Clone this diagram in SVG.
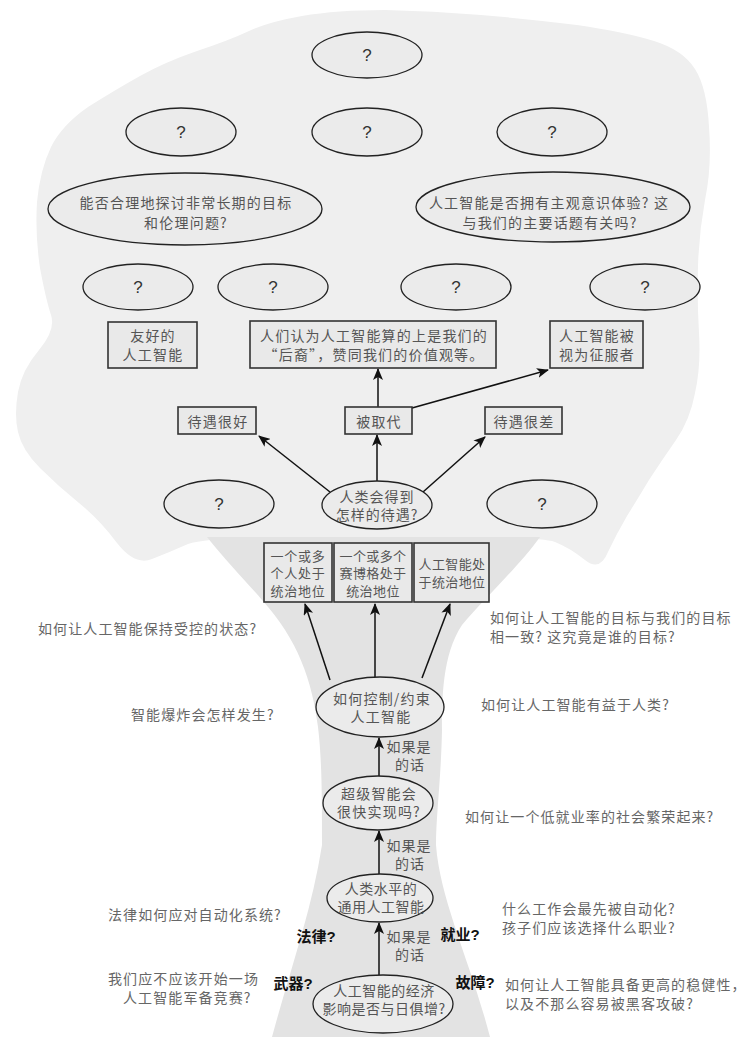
<svg xmlns="http://www.w3.org/2000/svg" width="750" height="1043" viewBox="0 0 750 1043">
<defs>
<style>
.ell{fill:#ebebeb;stroke:#222;stroke-width:1.3}
.box{fill:#e9e9e9;stroke:#333;stroke-width:1.6}
.q{font-family:"Liberation Sans",Arial,sans-serif;font-size:17px;fill:#333;text-anchor:middle;dominant-baseline:central}
.t{font-family:"Noto Sans CJK SC","Noto Sans",sans-serif;font-size:14px;fill:#555;text-anchor:middle;dominant-baseline:central;letter-spacing:1.2px}
.tb{font-family:"Noto Sans CJK SC","Noto Sans",sans-serif;font-size:13px;fill:#555;text-anchor:middle;dominant-baseline:central;letter-spacing:0.8px}
.s{font-family:"Noto Sans CJK SC","Noto Sans",sans-serif;font-size:14px;fill:#666;dominant-baseline:central;letter-spacing:1.1px}
.b{font-family:"Liberation Sans","Noto Sans CJK SC",sans-serif;font-size:15px;font-weight:bold;fill:#111;text-anchor:middle;dominant-baseline:central}
.con{stroke:#111;stroke-width:1.5;fill:none;marker-end:url(#ah)}
</style>
<marker id="ah" viewBox="0 0 12 10" refX="11" refY="5" markerWidth="12" markerHeight="10" markerUnits="userSpaceOnUse" orient="auto">
<path d="M0,0 L12,5 L0,10 L3,5 z" fill="#111"/>
</marker>
</defs>
<rect width="750" height="1043" fill="#ffffff"/>
<g id="tree">
<path id="cloud" fill="#efefef" d="M117,543 Q100,520 79,503 Q58,486 40,468 Q22,450 18,432 Q14,415 18,392 Q22,370 39,350 Q56,330 51,315 Q46,300 40,268 Q35,235 37,202 Q40,170 51,147 Q62,125 88,107 Q115,90 140,76 Q165,62 197,51 Q230,40 249,31 Q268,22 302,16 Q337,10 385,10 Q433,11 481,15 Q529,19 577,25 Q625,32 654,41 Q683,50 695,69 Q707,88 709,127 Q712,167 705,200 Q699,233 698,266 Q697,300 699,333 Q701,367 695,393 Q690,420 676,440 Q662,460 649,480 Q637,500 627,516 Q617,533 608,552 Q600,572 585,560 Q570,548 555,542 Q540,537 460,537 Q380,537 293,537 Q207,537 188,544 Q170,552 152,559 Q135,566 117,543 Z"/>
<path id="trunk" fill="#e3e3e3" d="M207,537 L540,537 C520,565 485,598 462,625 C442,655 442,700 442,730 C441,780 436,815 436,845 C440,900 470,960 490,1037 L272,1037 C290,970 312,910 322,845 C322,800 322,760 318,727 C312,680 298,640 262,600 C245,580 225,560 207,537 Z"/>
</g>
<g id="connectors">
<line class="con" x1="330" y1="492" x2="259" y2="436"/>
<line class="con" x1="377" y1="482" x2="377" y2="435"/>
<line class="con" x1="423" y1="492" x2="485" y2="437"/>
<line class="con" x1="378" y1="407" x2="378" y2="369"/>
<line class="con" x1="412" y1="408" x2="548" y2="370"/>
<line class="con" x1="330" y1="680" x2="305" y2="604"/>
<line class="con" x1="375" y1="677" x2="375" y2="604"/>
<line class="con" x1="422" y1="678" x2="450" y2="604"/>
<line class="con" x1="379" y1="776" x2="379" y2="738"/>
<line class="con" x1="379" y1="876" x2="379" y2="831"/>
<line class="con" x1="379" y1="975" x2="379" y2="923"/>
</g>
<g id="n_q1"><ellipse class="ell" cx="367" cy="55" rx="55" ry="23"/><text class="q" x="367" y="55">?</text></g>
<g id="n_q2"><ellipse class="ell" cx="181" cy="132" rx="55" ry="24"/><text class="q" x="181" y="132">?</text></g>
<g id="n_q3"><ellipse class="ell" cx="367" cy="132" rx="55" ry="24"/><text class="q" x="367" y="132">?</text></g>
<g id="n_q4"><ellipse class="ell" cx="552" cy="132" rx="55" ry="24"/><text class="q" x="552" y="132">?</text></g>
<g id="n_long"><ellipse class="ell" cx="185" cy="209" rx="137" ry="36"/><text class="t" x="186" y="202">能否合理地探讨非常长期的目标</text><text class="t" x="186" y="222">和伦理问题?</text></g>
<g id="n_conscious"><ellipse class="ell" cx="553" cy="207" rx="137" ry="35"/><text class="t" x="549" y="202">人工智能是否拥有主观意识体验? 这</text><text class="t" x="550" y="222">与我们的主要话题有关吗?</text></g>
<g id="n_q5"><ellipse class="ell" cx="138" cy="287" rx="55" ry="23"/><text class="q" x="138" y="287">?</text></g>
<g id="n_q6"><ellipse class="ell" cx="273" cy="287" rx="55" ry="23"/><text class="q" x="273" y="287">?</text></g>
<g id="n_q7"><ellipse class="ell" cx="456" cy="287" rx="55" ry="23"/><text class="q" x="456" y="287">?</text></g>
<g id="n_q8"><ellipse class="ell" cx="645" cy="287" rx="55" ry="23"/><text class="q" x="645" y="287">?</text></g>
<g id="n_friendly"><rect class="box" x="108" y="322" width="89" height="46"/><text class="t" x="153" y="335">友好的</text><text class="t" x="153" y="354">人工智能</text></g>
<g id="n_descendants"><rect class="box" x="250" y="321" width="246" height="47"/><text class="t" x="374" y="335">人们认为人工智能算的上是我们的</text><text class="t" x="374" y="354">“后裔”，赞同我们的价值观等。</text></g>
<g id="n_conquerors"><rect class="box" x="550" y="321" width="93" height="47"/><text class="t" x="597" y="335">人工智能被</text><text class="t" x="597" y="354">视为征服者</text></g>
<g id="n_good"><rect class="box" x="178" y="407" width="78" height="27"/><text class="t" x="218" y="421">待遇很好</text></g>
<g id="n_replaced"><rect class="box" x="345" y="407" width="67" height="27"/><text class="t" x="379" y="421">被取代</text></g>
<g id="n_bad"><rect class="box" x="485" y="407" width="77" height="27"/><text class="t" x="524" y="421">待遇很差</text></g>
<g id="n_q9"><ellipse class="ell" cx="219" cy="504" rx="55" ry="24"/><text class="q" x="219" y="504">?</text></g>
<g id="n_treated"><ellipse class="ell" cx="377" cy="505" rx="55" ry="24"/><text class="t" x="377" y="496" style="letter-spacing:1px">人类会得到</text><text class="t" x="377" y="514" style="letter-spacing:1px">怎样的待遇?</text></g>
<g id="n_q10"><ellipse class="ell" cx="542" cy="504" rx="55" ry="24"/><text class="q" x="542" y="504">?</text></g>
<g id="n_humans"><rect class="box" x="264" y="543" width="68" height="59"/><text class="tb" x="298" y="555">一个或多</text><text class="tb" x="298" y="572.5">个人处于</text><text class="tb" x="298" y="590">统治地位</text></g>
<g id="n_cyborgs"><rect class="box" x="334" y="543" width="78" height="59"/><text class="tb" x="373" y="555" style="letter-spacing:0.4px">一个或多个</text><text class="tb" x="373" y="572.5" style="letter-spacing:0.4px">赛博格处于</text><text class="tb" x="373" y="590" style="letter-spacing:0.4px">统治地位</text></g>
<g id="n_ai"><rect class="box" x="414" y="543" width="75" height="59"/><text class="tb" x="452" y="563.5" style="letter-spacing:0.4px">人工智能处</text><text class="tb" x="452" y="581.5" style="letter-spacing:0.4px">于统治地位</text></g>
<g id="n_control"><ellipse class="ell" cx="380" cy="707" rx="64" ry="30"/><text class="t" x="382" y="698">如何控制/约束</text><text class="t" x="381" y="716">人工智能</text></g>
<g id="n_super"><ellipse class="ell" cx="378" cy="803" rx="55" ry="27"/><text class="t" x="379" y="793">超级智能会</text><text class="t" x="379" y="811">很快实现吗?</text></g>
<g id="n_agi"><ellipse class="ell" cx="380" cy="898" rx="53" ry="24"/><text class="t" x="381" y="888" style="letter-spacing:0.5px">人类水平的</text><text class="t" x="381" y="906" style="letter-spacing:0.5px">通用人工智能</text></g>
<g id="n_econ"><ellipse class="ell" cx="383" cy="1004" rx="70" ry="29"/><text class="t" x="384" y="990" style="letter-spacing:0.5px">人工智能的经济</text><text class="t" x="384" y="1008" style="letter-spacing:0.5px">影响是否与日俱增?</text></g>
<g id="labels">
<text class="t" x="409" y="746" style="letter-spacing:1px">如果是</text><text class="t" x="410" y="764" style="letter-spacing:1px">的话</text>
<text class="t" x="409" y="845" style="letter-spacing:1px">如果是</text><text class="t" x="410" y="863" style="letter-spacing:1px">的话</text>
<text class="t" x="409" y="936" style="letter-spacing:1px">如果是</text><text class="t" x="410" y="954" style="letter-spacing:1px">的话</text>
<text class="b" x="316" y="936">法律?</text>
<text class="b" x="460" y="934">就业?</text>
<text class="b" x="293" y="983">武器?</text>
<text class="b" x="475" y="982">故障?</text>
</g>
<g id="side_texts">
<text class="s" x="38" y="628">如何让人工智能保持受控的状态?</text>
<text class="s" x="490" y="617">如何让人工智能的目标与我们的目标</text>
<text class="s" x="490" y="636">相一致? 这究竟是谁的目标?</text>
<text class="s" x="131" y="714">智能爆炸会怎样发生?</text>
<text class="s" x="481" y="704">如何让人工智能有益于人类?</text>
<text class="s" x="465" y="816">如何让一个低就业率的社会繁荣起来?</text>
<text class="s" x="108" y="914">法律如何应对自动化系统?</text>
<text class="s" x="502" y="908">什么工作会最先被自动化?</text>
<text class="s" x="502" y="927">孩子们应该选择什么职业?</text>
<text class="s" x="108" y="978">我们应不应该开始一场</text>
<text class="s" x="123" y="997">人工智能军备竞赛?</text>
<text class="s" x="505" y="984">如何让人工智能具备更高的稳健性，</text>
<text class="s" x="505" y="1003">以及不那么容易被黑客攻破?</text>
</g>
</svg>
